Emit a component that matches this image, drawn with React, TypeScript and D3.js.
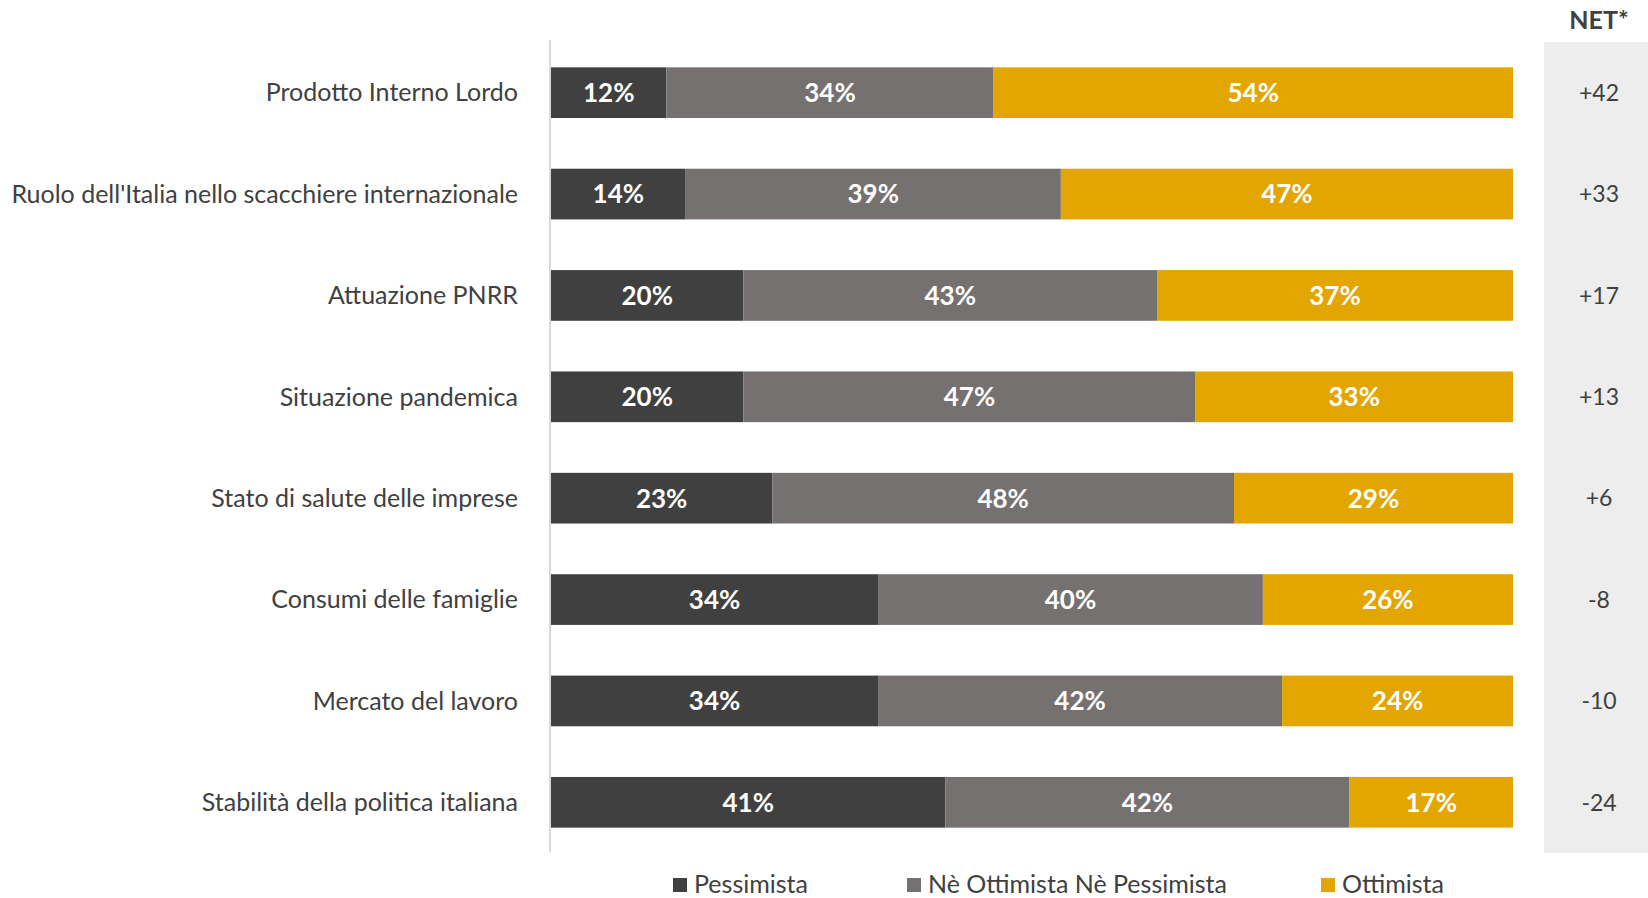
import React from "react";
import * as d3 from "d3";

const categories = [
  "Prodotto Interno Lordo",
  "Ruolo dell'Italia nello scacchiere internazionale",
  "Attuazione PNRR",
  "Situazione pandemica",
  "Stato di salute delle imprese",
  "Consumi delle famiglie",
  "Mercato del lavoro",
  "Stabilità della politica italiana",
];
const pessimista = [12, 14, 20, 20, 23, 34, 34, 41];
const neutrale = [34, 39, 43, 47, 48, 40, 42, 42];
const ottimista = [54, 47, 37, 33, 29, 26, 24, 17];
const net = ["+42", "+33", "+17", "+13", "+6", "-8", "-10", "-24"];
const seriesNames = ["Pessimista", "Nè Ottimista Nè Pessimista", "Ottimista"];
const colors = ["#404040", "#767171", "#E3A500"];

const W = 1648;
const H = 898;
const FONT = "Lato, 'Open Sans', sans-serif";

const App: React.FC = () => {
  const x = d3.scaleLinear().domain([0, 100]).range([551, 1513]);
  const y = d3
    .scaleBand<string>()
    .domain(categories)
    .range([42, 853])
    .paddingInner(0.5)
    .paddingOuter(0.25);

  const rows = categories.map((c, i) => ({
    cat: c,
    vals: [pessimista[i], neutrale[i], ottimista[i]],
  }));

  const legendX = [673, 907, 1321];

  return (
    <svg
      width={W}
      height={H}
      style={{ position: "absolute", left: 0, top: 0, display: "block" }}
      fontFamily={FONT}
    >
      <rect width={W} height={H} fill="#fff" />
      {/* NET panel */}
      <rect x={1544} y={42} width={W - 1544} height={811} fill="#ededed" />
      <text
        x={1599}
        y={29}
        textAnchor="middle"
        fontSize={25}
        fontWeight="bold"
        fill="#404040"
      >
        NET*
      </text>
      {/* axis line */}
      <line x1={550} x2={550} y1={40} y2={852} stroke="#d9d9d9" strokeWidth={2} />
      {rows.map((r, i) => {
        const yy = y(r.cat)!;
        const bh = y.bandwidth();
        let acc = 0;
        return (
          <g key={r.cat}>
            <text
              x={518}
              y={yy + bh / 2}
              dy="0.35em"
              textAnchor="end"
              fontSize={25}
              fill="#404040"
            >
              {r.cat}
            </text>
            {r.vals.map((v, j) => {
              const x0 = x(acc);
              acc += v;
              const x1 = x(acc);
              return (
                <g key={j}>
                  <rect x={x0} y={yy} width={x1 - x0} height={bh} fill={colors[j]} />
                  <text
                    x={(x0 + x1) / 2}
                    y={yy + bh / 2}
                    dy="0.36em"
                    textAnchor="middle"
                    fontSize={26}
                    fontWeight="bold"
                    fill="#fff"
                  >
                    {v}%
                  </text>
                </g>
              );
            })}
            <text
              x={1599}
              y={yy + bh / 2}
              dy="0.36em"
              textAnchor="middle"
              fontSize={23}
              fill="#404040"
            >
              {net[i]}
            </text>
          </g>
        );
      })}
      {/* legend */}
      {seriesNames.map((s, i) => (
        <g key={s}>
          <rect x={legendX[i]} y={878} width={14} height={14} fill={colors[i]} />
          <text x={legendX[i] + 21} y={893} fontSize={25} fill="#404040">
            {s}
          </text>
        </g>
      ))}
    </svg>
  );
};

export default App;
